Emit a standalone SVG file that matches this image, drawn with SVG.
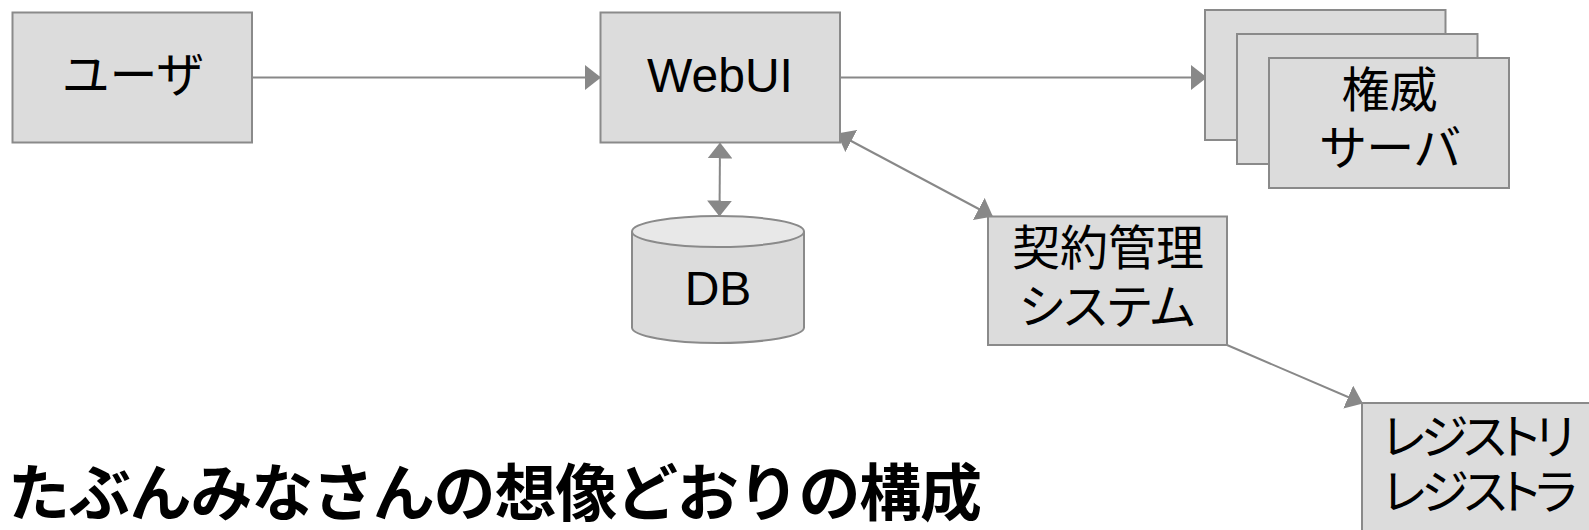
<svg xmlns="http://www.w3.org/2000/svg" width="1589" height="530" viewBox="0 0 1589 530">
  <style>
    .box { fill: #dcdcdc; stroke: #8a8a8a; stroke-width: 2; }
    .lbl { font-family: "Liberation Sans", "Noto Sans CJK JP", sans-serif; font-size: 48px; fill: #000; text-anchor: middle; }
    .kana { font-feature-settings: "palt"; }
    .conn { stroke: #888; stroke-width: 2; fill: none; }
    .title { font-family: "Noto Sans CJK JP", sans-serif; font-weight: bold; font-size: 62px; fill: #000; }
  </style>
  <defs>
    <marker id="head" viewBox="0 0 16 25" markerWidth="16" markerHeight="25" refX="15" refY="12.5" orient="auto-start-reverse" markerUnits="userSpaceOnUse">
      <path d="M0,0 L16,12.5 L0,25 z" fill="#888"/>
    </marker>
  </defs>

  <rect width="1589" height="530" fill="#fff"/>

  <!-- connectors -->
  <g id="connectors">
    <line class="conn" x1="252" y1="77.5" x2="600" y2="77.5" marker-end="url(#head)"/>
    <line class="conn" x1="840" y1="77.5" x2="1206" y2="77.5" marker-end="url(#head)"/>
    <line class="conn" x1="720" y1="143.5" x2="719.5" y2="215.5" marker-start="url(#head)" marker-end="url(#head)"/>
    <line class="conn" x1="838" y1="134" x2="992" y2="216" marker-start="url(#head)" marker-end="url(#head)"/>
    <line class="conn" x1="1227" y1="345" x2="1362" y2="403" marker-end="url(#head)"/>
  </g>

  <!-- user -->
  <g id="user">
    <rect class="box" x="12.5" y="12.5" width="239.5" height="130"/>
    <text class="lbl kana" x="132.5" y="92" textLength="140" lengthAdjust="spacing">ユーザ</text>
  </g>

  <!-- web front end -->
  <g id="webui">
    <rect class="box" x="600.5" y="12.5" width="239.5" height="130"/>
    <text class="lbl" x="720" y="92">WebUI</text>
  </g>

  <!-- authoritative servers (stacked) -->
  <g id="auth-servers">
    <rect class="box" x="1205" y="10" width="240.5" height="130"/>
    <rect class="box" x="1237" y="34" width="240.5" height="130"/>
    <rect class="box" x="1269" y="58" width="240" height="130"/>
    <text class="lbl" x="1389.5" y="107">権威</text>
    <text class="lbl kana" x="1390" y="165" textLength="140" lengthAdjust="spacing">サーバ</text>
  </g>

  <!-- database -->
  <g id="db">
    <path d="M632,231.5 L632,327.5 A86,15.5 0 0 0 804,327.5 L804,231.5" fill="#dcdcdc" stroke="#8a8a8a" stroke-width="2"/>
    <ellipse cx="718" cy="231.5" rx="86" ry="15.5" fill="#e8e8e8" stroke="#8a8a8a" stroke-width="2"/>
    <text class="lbl" x="718" y="305">DB</text>
  </g>

  <!-- contract management system -->
  <g id="contract-system">
    <rect class="box" x="988" y="216.5" width="239" height="128.5"/>
    <text class="lbl" x="1108" y="265">契約管理</text>
    <text class="lbl kana" x="1107" y="324" textLength="176" lengthAdjust="spacing">システム</text>
  </g>

  <!-- registry / registrar -->
  <g id="registry">
    <rect class="box" x="1362" y="403" width="240" height="140"/>
    <text class="lbl kana" x="1478.5" y="454" textLength="192" lengthAdjust="spacing">レジストリ</text>
    <text class="lbl kana" x="1480" y="509" textLength="194" lengthAdjust="spacing">レジストラ</text>
  </g>

  <!-- caption -->
  <g id="caption">
    <text class="title" x="8" y="516" textLength="974" lengthAdjust="spacing">たぶんみなさんの想像どおりの構成</text>
  </g>
</svg>
